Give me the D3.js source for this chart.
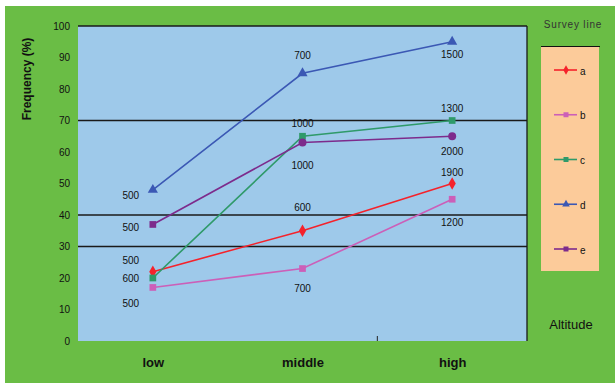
<!DOCTYPE html>
<html><head><meta charset="utf-8">
<script src="https://cdn.jsdelivr.net/npm/d3@7/dist/d3.min.js"></script>
<style>body{margin:0;background:#fff}svg{display:block}</style>
</head><body>
<script>
const categories = ["low", "middle", "high"];
const seriesNames = ["a", "b", "c", "d", "e"];
const valuesA = [22, 35, 50];
const valuesB = [17, 23, 45];
const valuesC = [20, 65, 70];
const valuesD = [48, 85, 95];
const valuesE = [37, 63, 65];
const labelsA = ["600", "600", "1900"];
const labelsB = ["500", "700", "1200"];
const labelsC = ["500", "1000", "1300"];
const labelsD = ["500", "700", "1500"];
const labelsE = ["500", "1000", "2000"];
const yTicks = [0, 10, 20, 30, 40, 50, 60, 70, 80, 90, 100];
const gridValues = [30, 40, 70, 100];

const W = 615, H = 383;
const svg = d3.select("body").append("svg").attr("width", W).attr("height", H);
svg.append("rect").attr("x", 5).attr("y", 6).attr("width", W - 5).attr("height", H - 6).attr("fill", "#6abd45");

const plot = {left: 78, right: 527, top: 26, bottom: 341};
const x = d3.scalePoint().domain(categories).range([plot.left, plot.right]).padding(0.5);
const xb = d3.scaleBand().domain(categories).range([plot.left, plot.right]);
const y = d3.scaleLinear().domain([0, 100]).range([plot.bottom, plot.top]);

svg.append("rect").attr("x", plot.left).attr("y", plot.top).attr("width", plot.right - plot.left)
  .attr("height", plot.bottom - plot.top).attr("fill", "#9ec9ea");

// gridlines
svg.selectAll(".grid").data(gridValues).enter().append("line")
  .attr("x1", plot.left).attr("x2", plot.right).attr("y1", d => y(d)).attr("y2", d => y(d))
  .attr("stroke", "#1a1a1a").attr("stroke-width", 1.3);
svg.append("line").attr("x1", plot.right).attr("x2", plot.right).attr("y1", plot.top).attr("y2", plot.bottom)
  .attr("stroke", "#1a1a1a").attr("stroke-width", 1.3);
// tick between middle and high
svg.append("line").attr("x1", xb("high")).attr("x2", xb("high")).attr("y1", plot.bottom - 5).attr("y2", plot.bottom)
  .attr("stroke", "#222").attr("stroke-width", 1);

// y axis labels
const yAxis = d3.axisLeft(y).tickValues(yTicks).tickSize(0).tickPadding(0);
const ya = svg.append("g").attr("transform", `translate(70,0)`).call(yAxis);
ya.select(".domain").remove();
ya.selectAll("text").attr("font-family", "Liberation Sans Narrow, Liberation Sans, sans-serif")
  .attr("font-size", 10).attr("fill", "#111");

// x axis labels
const xAxis = d3.axisBottom(x).tickSize(0).tickPadding(0);
const xa = svg.append("g").attr("transform", `translate(0,358)`).call(xAxis);
xa.select(".domain").remove();
xa.selectAll("text").attr("font-family", "Liberation Sans, Arial, sans-serif").attr("font-weight", "bold")
  .attr("font-size", 13).attr("fill", "#111");

svg.append("text").attr("transform", `translate(31,79) rotate(-90)`).attr("text-anchor", "middle")
  .attr("font-family", "Liberation Sans, Arial, sans-serif").attr("font-weight", "bold").attr("font-size", 12)
  .attr("fill", "#111").text("Frequency (%)");

const series = [
  {name: "a", values: valuesA, labels: labelsA, color: "#f5222b", marker: "diamond", lab: [[-22, 7], [0, -23], [0, -11]]},
  {name: "b", values: valuesB, labels: labelsB, color: "#cc5fb8", marker: "square", lab: [[-22, 16], [0, 20], [0, 23]]},
  {name: "c", values: valuesC, labels: labelsC, color: "#2f9a6a", marker: "square", lab: [[-22, -18], [0, -13], [0, -12]]},
  {name: "d", values: valuesD, labels: labelsD, color: "#3b58b4", marker: "triangle", lab: [[-22, 6], [0, -18], [0, 13]]},
  {name: "e", values: valuesE, labels: labelsE, color: "#7d2b8c", marker: "circle", lab: [[-22, 3], [0, 23], [0, 15]]}
];
const symType = {diamond: d3.symbolDiamond, square: d3.symbolSquare, triangle: d3.symbolTriangle, circle: d3.symbolCircle};
const symSize = {diamond: 45, square: 45, triangle: 45, circle: 50};

const line = d3.line().x((d, i) => x(categories[i])).y(d => y(d));
series.forEach(s => {
  svg.append("path").datum(s.values).attr("d", line).attr("fill", "none")
    .attr("stroke", s.color).attr("stroke-width", 1.6);
});
series.forEach(s => {
  s.values.forEach((v, i) => {
    let m = s.marker;
    if (s.name === "e" && i === 0) m = "square";
    svg.append("path").attr("d", d3.symbol().type(symType[m]).size(symSize[m])())
      .attr("transform", `translate(${x(categories[i])},${y(v)})`).attr("fill", s.color);
  });
});
series.forEach(s => {
  s.values.forEach((v, i) => {
    svg.append("text").attr("x", x(categories[i]) + s.lab[i][0]).attr("y", y(v) + s.lab[i][1])
      .attr("text-anchor", "middle").attr("dominant-baseline", "central")
      .attr("font-family", "Liberation Sans Narrow, Liberation Sans, sans-serif").attr("font-size", 10)
      .attr("fill", "#111").text(s.labels[i]);
  });
});

// legend
svg.append("text").attr("x", 573).attr("y", 28).attr("text-anchor", "middle")
  .attr("font-family", "Liberation Sans, Arial, sans-serif").attr("font-size", 10).attr("letter-spacing", 0.8)
  .attr("fill", "#333").text("Survey line");
svg.append("rect").attr("x", 541).attr("y", 47).attr("width", 58).attr("height", 224).attr("fill", "#fccb9a");
svg.append("line").attr("x1", 541).attr("x2", 600).attr("y1", 46.5).attr("y2", 46.5).attr("stroke", "#111").attr("stroke-width", 1.2);
const ly = d3.scalePoint().domain(seriesNames).range([70, 249]);
series.forEach(s => {
  const yy = ly(s.name);
  svg.append("line").attr("x1", 554).attr("x2", 577).attr("y1", yy).attr("y2", yy).attr("stroke", s.color).attr("stroke-width", 1.6);
  const m = s.name === "e" ? "square" : s.marker;
  svg.append("path").attr("d", d3.symbol().type(symType[m]).size(25)()).attr("transform", `translate(566,${yy})`).attr("fill", s.color);
  svg.append("text").attr("x", 580).attr("y", yy + 1).attr("dominant-baseline", "central")
    .attr("font-family", "Liberation Sans, Arial, sans-serif").attr("font-size", 10).attr("fill", "#111").text(s.name);
});
svg.append("text").attr("x", 571).attr("y", 329).attr("text-anchor", "middle")
  .attr("font-family", "Liberation Sans, Arial, sans-serif").attr("font-size", 13)
  .attr("fill", "#111").text("Altitude");
</script>
</body></html>
